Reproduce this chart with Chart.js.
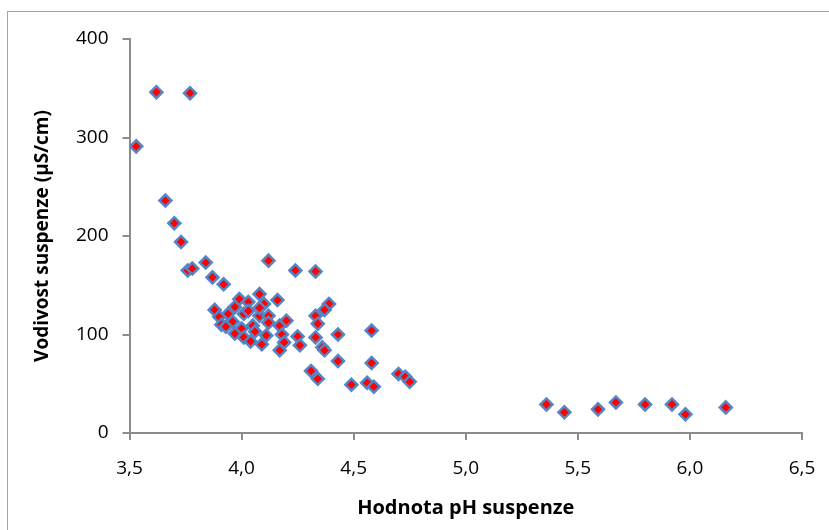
<!DOCTYPE html>
<html>
<head>
<meta charset="utf-8">
<script src="https://cdn.jsdelivr.net/npm/chart.js@4"></script>
<style>
  html, body { margin: 0; padding: 0; background: #fff; }
  #wrap { position: relative; width: 829px; height: 530px; }
  #frame { position: absolute; left: 7px; top: 11px; right: -2px; bottom: -2px; border-left: 1px solid #a6a6a6; border-top: 1px solid #a6a6a6; pointer-events: none; }
  canvas { position: absolute; left: 0; top: 0; }
</style>
</head>
<body>
<div id="wrap">
  <canvas id="c" width="829" height="530"></canvas>
  <div id="frame"></div>
</div>
<script>
// pH values of suspension (x)
const phValues = [
  3.53, 3.62, 3.77, 3.66, 3.70, 3.73, 3.76, 3.78, 3.84, 3.87, 3.92,
  4.12, 4.24, 4.33,
  3.88, 3.90, 3.91, 3.94, 3.96, 3.97, 3.99, 4.03, 4.08, 4.10, 4.16,
  4.01, 4.08, 4.12, 4.00, 3.97, 4.05, 4.01, 4.12, 4.11, 4.04, 4.09,
  4.17, 4.20, 4.18, 4.19, 4.17, 4.25, 4.26,
  4.03, 4.08, 3.93, 4.06,
  4.39, 4.37, 4.33, 4.34, 4.43, 4.58, 4.33, 4.36, 4.37, 4.43, 4.58,
  4.31, 4.34, 4.49, 4.56, 4.59, 4.70, 4.73, 4.75,
  5.36, 5.44, 5.59, 5.67, 5.80, 5.92, 5.98, 6.16
];
// conductivity of suspension in µS/cm (y)
const conductivityValues = [
  291, 346, 345, 236, 213, 194, 165, 167, 173, 158, 151,
  175, 165, 164,
  125, 118, 110, 121, 113, 128, 136, 133, 141, 131, 135,
  121, 119, 119, 106, 101, 109, 97, 112, 99, 93, 90,
  109, 114, 100, 92, 84, 98, 89,
  124, 127, 108, 103,
  131, 125, 119, 111, 100, 104, 97, 87, 84, 73, 71,
  63, 55, 49, 51, 47, 60, 57, 52,
  29, 21, 24, 31, 29, 29, 19, 26
];
const xTickValues = [3.5, 4.0, 4.5, 5.0, 5.5, 6.0, 6.5];
const yTickValues = [0, 100, 200, 300, 400];
const xTitle = 'Hodnota pH suspenze';
const yTitle = 'Vodivost suspenze (µS/cm)';

const points = phValues.map((x, i) => ({ x: x, y: conductivityValues[i] }));
const axisColor = '#8c8c8c';
const tickFont = { family: 'Open Sans', size: 19 };
const xTitleFont = { family: 'Open Sans', size: 20, weight: 'bold' };
const yTitleFont = { family: 'Open Sans', size: 19, weight: 'bold' };

new Chart(document.getElementById('c'), {
  type: 'scatter',
  data: {
    datasets: [{
      data: points,
      pointStyle: 'rectRot',
      pointRadius: 6,
      pointHoverRadius: 6,
      backgroundColor: '#ff0000',
      borderColor: '#5585c4',
      borderWidth: 2.5
    }]
  },
  options: {
    responsive: false,
    animation: false,
    events: [],
    layout: { padding: { left: 0, top: 39, right: 27, bottom: 0 } },
    plugins: { legend: { display: false }, tooltip: { enabled: false } },
    scales: {
      x: {
        type: 'linear',
        min: 3.5, max: 6.5,
        afterBuildTicks: s => { s.ticks = xTickValues.map(v => ({ value: v })); },
        afterFit: s => { s.height = 97; s.paddingRight = 0; s.paddingLeft = 0; },
        border: { color: axisColor, width: 2 },
        grid: { drawOnChartArea: false, color: axisColor, tickLength: 7, lineWidth: 2 },
        ticks: {
          color: '#000', font: tickFont, padding: 17, maxRotation: 0,
          callback: v => v.toFixed(1).replace('.', ',')
        },
        title: { display: true, text: xTitle, color: '#000', font: xTitleFont, padding: { top: 14, bottom: 10 } }
      },
      y: {
        type: 'linear',
        min: 0, max: 400,
        afterBuildTicks: s => { s.ticks = yTickValues.map(v => ({ value: v })); },
        afterFit: s => { s.width = 129.5; },
        border: { color: axisColor, width: 2 },
        grid: { drawOnChartArea: false, color: axisColor, tickLength: 7, lineWidth: 2 },
        ticks: { color: '#000', font: tickFont, padding: 14 },
        title: { display: true, text: yTitle, color: '#000', font: yTitleFont, padding: { top: 31, bottom: 10 } }
      }
    }
  }
});
</script>
</body>
</html>
